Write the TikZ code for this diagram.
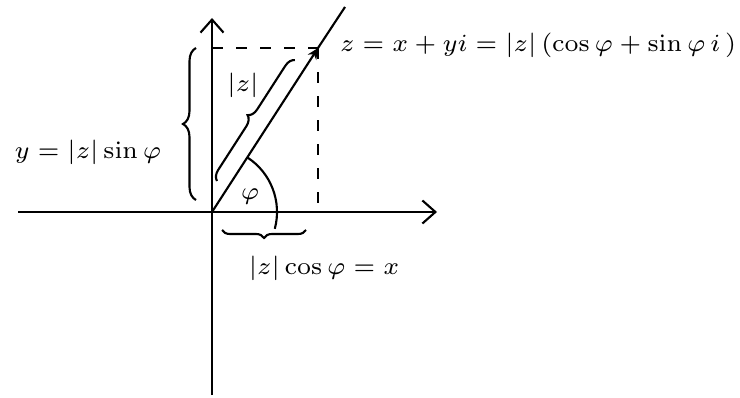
\documentclass[tikz,border=0pt]{standalone}
\usepackage{amsmath,amssymb}
\usepackage{tikz}
\usetikzlibrary{arrows.meta,positioning,calc,decorations.pathreplacing}
\tikzset{
    axis/.style={line width=0.6pt, -{Straight Barb[length=1.3mm,width=2.3mm]}},
    guide/.style={line width=0.6pt, dash pattern=on 1.1mm off 1.3mm},
    brc/.style={line width=0.6pt, decorate,
                decoration={brace, amplitude=#1}},
    lbl/.style={font=\fontsize{7}{8}\selectfont, inner sep=1pt},
}
\begin{document}
\begin{tikzpicture}[
    x=0.01cm, y=0.01cm,
    vec/.style={line width=0.6pt, -{Stealth[length=1.1mm,width=1mm]}},
]
    \useasboundingbox (0,0) rectangle (740,397);

    \coordinate (O) at (212,185);
    \coordinate (zpt) at (318,349);
    \coordinate (lineend) at (345,390);
    \coordinate (xneg) at (18,185);
    \coordinate (xpos) at (437,185);
    \coordinate (yneg) at (212,2);
    \coordinate (ypos) at (212,379);
    \coordinate (xfoot) at (318,185);
    \coordinate (yfoot) at (212,349);

    % axes
    \draw[axis] (xneg) -- (xpos);
    \draw[axis] (yneg) -- (ypos);

    % vector to z
    \draw[vec] (O) -- (zpt);
    \draw[line width=0.6pt] (zpt) -- (lineend);
    \draw[guide] (yfoot) -- (zpt);
    \draw[guide] (zpt) -- (xfoot);

    % braces
    \draw[brc=1.3mm] (196,197) -- (196,349);
    \draw[brc=1mm] (217,216) -- (295,337);
    \draw[brc=0.8mm] (306,167) -- (222,167);

    % angle
    \draw[line width=0.6pt] ($(O)+(57:65)$) arc[start angle=57, end angle=-15, radius=65];

    \node[lbl] (zeq) at (336,352) [anchor=west]
        {$z = x + yi = |z|\,(\cos\varphi + \sin\varphi\, i\,)$};
    \node[lbl] (ylab) at (88,245) {$y = |z|\sin\varphi$};
    \node[lbl] (xlab) at (324,129) {$|z|\cos\varphi = x$};
    \node[lbl] (rlab) at (243,312) {$|z|$};
    \node[lbl] (philab) at (250,200) {$\varphi$};
\end{tikzpicture}
\end{document}
